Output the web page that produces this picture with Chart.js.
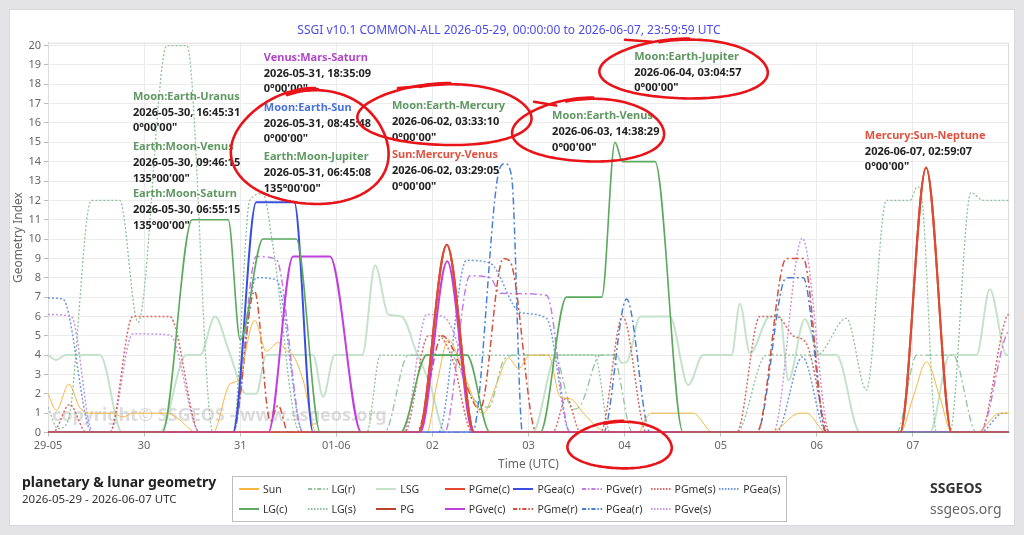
<!DOCTYPE html>
<html>
<head>
<meta charset="utf-8">
<title>SSGI planetary & lunar geometry</title>
<script src="https://cdn.jsdelivr.net/npm/chart.js@4.4.1/dist/chart.umd.min.js"></script>
<style>
    body { margin: 0; width: 1024px; height: 535px; overflow: hidden; position: relative; background: #e4e4e7; font-family: "Noto Sans", sans-serif; }
    #card { position: absolute; left: 9px; top: 9px; width: 1006px; height: 517px; background: #fff; box-sizing: border-box; border: 1px solid #d9d9dc; }
    #chart { position: absolute; left: 9px; top: 9px; }
    .foot { position: absolute; white-space: nowrap; color: #222; }
    #legend { position: absolute; left: 232px; top: 476px; width: 555px; height: 46px; box-sizing: border-box; border: 1px solid #bdbdbd; background: #fff;
              display: grid; grid-template-rows: repeat(2, 20px); grid-auto-flow: column; grid-auto-columns: 68.6px; padding: 2px 0 0 6px; }
    .item { display: flex; align-items: center; font-size: 10.5px; color: #333; }
    .item svg { margin-right: 4px; }
</style>
</head>
<body>
<div id="card"></div>
<canvas id="chart" width="1006" height="470" style="width:1006px;height:470px"></canvas>
<div class="foot" style="left:22px;top:472px;font-size:14px;font-weight:bold;">planetary &amp; lunar geometry</div>
<div class="foot" style="left:22px;top:491px;font-size:11.5px;color:#333;">2026-05-29 - 2026-06-07 UTC</div>
<div id="legend"></div>
<div class="foot" style="left:930px;top:478px;font-size:14px;font-weight:bold;color:#333;">SSGEOS</div>
<div class="foot" style="left:930px;top:499px;font-size:14px;color:#666;">ssgeos.org</div>

<script>
// SSGI geometry index, 2026-05-29 .. 2026-06-07, x = hours since 29-05 00:00 UTC

const dayLabels = ['29-05', '30', '31', '01-06', '02', '03', '04', '05', '06', '07'];
const dayHours = [0, 24, 48, 72, 96, 120, 144, 168, 192, 216];
const yTicks = [0, 1, 2, 3, 4, 5, 6, 7, 8, 9, 10, 11, 12, 13, 14, 15, 16, 17, 18, 19, 20];

// [hour, index]
const sun = [[0, 2], [2.1, 1.15], [5.2, 2.5], [7.9, 1.3], [10.4, 1], [16.2, 1], [18.7, 0.8], [21.2, 1], [29.6, 1], [32.9, 0.65], [37, 0], [41.2, 0],
    [45.4, 2.5], [47.5, 2.7], [51.6, 5.8], [54.5, 4.2], [57.5, 4.65], [59.5, 4.25], [61.2, 4], [63.7, 2.7], [67, 0], [94.6, 0], [97.1, 2.5], [100, 4.8],
    [102.9, 3.6], [105.4, 2.2], [107.5, 1.15], [108.7, 1], [112, 2.5], [115, 3.85], [117.5, 3.3], [120.4, 4], [125, 4], [127.9, 1.85], [130.4, 1.75],
    [133.7, 1], [137, 0.3], [139.5, 0], [147.4, 0], [149.5, 0.8], [150.8, 1], [161.1, 1], [166.1, 0], [180.3, 0], [187.8, 1], [189.4, 1], [194.4, 0],
    [212.8, 0], [216.1, 1.85], [219.4, 3.65], [222.7, 1.85], [225.7, 0], [231.9, 0], [237.7, 1], [240, 1]];
const lgC = [[0, 0], [28.5, 0], [36, 11], [45, 11], [48, 4.8], [53.7, 10], [62, 10], [68, 0], [88, 0], [94.6, 4], [104.6, 4], [110.4, 0], [122.9, 0],
    [129.5, 7], [138.3, 7], [141.6, 15], [143.5, 14], [151.6, 14], [158.6, 0], [240, 0]];
const lgR = [[0, 0], [84, 0], [90, 4], [100.5, 4], [106, 1.8], [110, 1.3], [114, 3.8], [117, 4], [126.5, 4], [131, 1.2], [133, 1.4], [138, 4], [141, 4],
    [146, 0], [211.9, 0], [217, 4], [226, 4], [231.9, 0], [240, 0]];
const lgS = [[0, 1.3], [2.5, 0.2], [5, 0.6], [10.8, 12], [17.9, 12], [22.5, 5.7], [29.7, 20], [34.7, 20], [41.2, 0], [46.2, 0], [50.4, 12], [53.7, 12.35],
    [56.2, 9.6], [62.9, 0], [79.6, 0], [83, 4], [136.5, 4], [140.4, 0], [172, 0], [179.4, 4], [192, 4], [199.4, 5.9], [204.4, 2.2], [209.4, 12], [215.3, 12],
    [217.1, 12.7], [218.3, 12], [221.9, 0], [225.2, 0], [230.5, 12.4], [233.6, 12], [240, 12]];
const lsg = [[0, 4], [2, 3.75], [4.5, 4], [13, 4], [18.5, 0], [28, 0], [34.5, 4], [38, 4], [41.7, 6], [45.2, 4.2], [49.5, 2], [52, 2], [54.5, 4], [66.2, 4],
    [68.7, 1.85], [71.6, 4], [78.5, 4], [81.7, 8.65], [85, 6.1], [88.3, 6], [92.1, 4.1], [95.4, 2.5], [99.2, 0], [121, 0], [127, 4], [142, 4], [143.3, 3.6],
    [144.6, 3.65], [147.9, 6], [155.3, 6], [159.9, 2.45], [163.6, 4], [170.7, 4], [172.8, 6.65], [175.3, 4.1], [180.3, 6], [182.8, 6], [184.9, 2.7],
    [189, 5.85], [192.8, 4], [196.9, 4], [202.8, 0], [220.2, 0], [225.2, 4], [231.9, 4], [235.2, 7.4], [239.4, 4], [240, 4]];
const pg = [[0, 0], [92.5, 0], [99.6, 9.7], [106.5, 0], [212.8, 0], [219.3, 13.7], [225.7, 0], [240, 0]];
const pgmeC = [[0, 0], [92.5, 0], [99.6, 9.7], [106.5, 0], [212.8, 0], [219.3, 13.7], [225.7, 0], [240, 0]];
const pgveC = [[0, 0], [55, 0], [61.2, 9.1], [70.4, 9.1], [78.3, 0], [92.9, 0], [99.7, 8.85], [106.2, 0], [240, 0]];
const pgeaC = [[0, 0], [46.2, 0], [52, 11.9], [61.5, 11.9], [66.2, 0], [240, 0]];
const pgmeR = [[0, 0], [46.2, 0], [51.6, 7.3], [55.5, 0.6], [57.5, 1.4], [60, 0], [92, 0], [98.5, 5], [101.2, 4.3], [107.9, 1.2], [113.7, 9], [115.5, 8.8],
    [122, 0], [177, 0], [184.4, 9], [188.6, 9], [194.4, 0], [240, 0]];
const pgveR = [[0, 0], [46.2, 0], [52, 9.1], [57, 8.95], [63.7, 0], [99, 0], [105.4, 8.1], [110.4, 8], [113, 7.2], [124.5, 7.1], [130.4, 0], [232.7, 0],
    [239.4, 5.1], [240, 5.2]];
const pgeaR = [[0, 0], [106, 0], [112.3, 13.2], [114.1, 13.9], [115.8, 13.2], [118.5, 0], [138.7, 0], [144.5, 6.9], [150.4, 0], [177, 0], [184.4, 8],
    [188.6, 8], [194.4, 0], [240, 0]];
const pgmeS = [[0, 0], [1.2, 0], [5.4, 1.45], [9.6, 0], [15.4, 0], [21.2, 6], [30.4, 6], [37.9, 0], [89, 0], [95, 5], [97.5, 5], [101, 3.8], [106, 0],
    [126, 0], [129.5, 1.8], [133, 0], [138, 0], [143.5, 6], [149.5, 0], [172, 0], [177.8, 6], [182, 6], [186.1, 5], [189.4, 4.6], [195.3, 0], [232.7, 0],
    [239.4, 6], [240, 6.1]];
const pgveS = [[0, 6.1], [5.8, 6], [11.2, 0], [15.4, 0], [21.2, 5.1], [30.4, 5.05], [37.9, 0], [88.7, 0], [94.6, 6.1], [98.7, 6], [103, 4], [106.5, 0],
    [181.1, 0], [188.4, 10.05], [195.3, 0], [240, 0]];
const pgeaS = [[0, 6.95], [3.7, 6.9], [11, 0], [46.2, 0], [52, 8], [57, 7.9], [63.7, 0], [97.5, 0], [104.5, 8.9], [110.4, 8.75], [118, 6.2], [124.5, 5.9],
    [130.4, 0], [181.9, 0], [188.4, 3.9], [194.4, 0], [232.7, 0], [238.6, 1], [240, 1]];

// event labels
const noteTitles = ['Moon:Earth-Uranus', 'Earth:Moon-Venus', 'Earth:Moon-Saturn', 'Venus:Mars-Saturn', 'Moon:Earth-Sun', 'Earth:Moon-Jupiter',
    'Moon:Earth-Mercury', 'Sun:Mercury-Venus', 'Moon:Earth-Jupiter', 'Moon:Earth-Venus', 'Mercury:Sun-Neptune'];
const noteTimes = ['2026-05-30, 16:45:31', '2026-05-30, 09:46:15', '2026-05-30, 06:55:15', '2026-05-31, 18:35:09', '2026-05-31, 08:45:48',
    '2026-05-31, 06:45:08', '2026-06-02, 03:33:10', '2026-06-02, 03:29:05', '2026-06-04, 03:04:57', '2026-06-03, 14:38:29', '2026-06-07, 02:59:07'];
const noteAngles = ['0°00\'00"', '135°00\'00"', '135°00\'00"', '0°00\'00"', '0°00\'00"', '135°00\'00"', '0°00\'00"', '0°00\'00"', '0°00\'00"',
    '0°00\'00"', '0°00\'00"'];

const GREEN = '#5f9862', PURPLE = '#b048c8', BLUE = '#4a72d8', RED = '#e0523f';
const noteColors = [GREEN, GREEN, GREEN, PURPLE, BLUE, GREEN, GREEN, RED, GREEN, GREEN, RED];
// label anchor in (hour, index) units
const noteSpots = [[21.2, 17.36], [21.2, 14.77], [21.2, 12.33], [53.9, 19.38], [53.9, 16.79], [53.9, 14.25], [85.9, 16.89], [85.9, 14.35],
    [146.4, 19.43], [125.9, 16.37], [204.0, 15.34]];

const DOT = [2, 2], DASHDOT = [7, 3, 2, 3];
// legend order is column-major, two rows
const series = [
    { label: 'Sun', data: sun, color: '#f4b63f', width: 1, dash: [], order: 4 },
    { label: 'LG(c)', data: lgC, color: '#5aa95c', width: 1.6, dash: [], order: 2 },
    { label: 'LG(r)', data: lgR, color: '#8fc49c', width: 1.3, dash: DASHDOT, order: 9 },
    { label: 'LG(s)', data: lgS, color: '#8cc297', width: 1.3, dash: DOT, order: 9 },
    { label: 'LSG', data: lsg, color: '#c4e3ca', width: 2, dash: [], order: 10 },
    { label: 'PG', data: pg, color: '#b9412d', width: 2, dash: [], order: 3 },
    { label: 'PGme(c)', data: pgmeC, color: '#e4492f', width: 2, dash: [], order: 1 },
    { label: 'PGve(c)', data: pgveC, color: '#c23fdf', width: 2, dash: [], order: 2 },
    { label: 'PGea(c)', data: pgeaC, color: '#3a4fe0', width: 2, dash: [], order: 2 },
    { label: 'PGme(r)', data: pgmeR, color: '#d5503c', width: 1.5, dash: DASHDOT, order: 6 },
    { label: 'PGve(r)', data: pgveR, color: '#c27fe2', width: 1.5, dash: DASHDOT, order: 6 },
    { label: 'PGea(r)', data: pgeaR, color: '#4a7fd6', width: 1.5, dash: DASHDOT, order: 6 },
    { label: 'PGme(s)', data: pgmeS, color: '#d66a62', width: 1.5, dash: DOT, order: 7 },
    { label: 'PGve(s)', data: pgveS, color: '#c995e4', width: 1.5, dash: DOT, order: 7 },
    { label: 'PGea(s)', data: pgeaS, color: '#6d9ce2', width: 1.5, dash: DOT, order: 7 }
];

// HTML legend
const legendBox = document.getElementById('legend');
series.forEach(function (s) {
    const item = document.createElement('div');
    item.className = 'item';
    const dash = s.dash.length ? s.dash.map(function (d) { return Math.max(1.5, d * 0.6); }).join(',') : 'none';
    item.innerHTML = '<svg width="20" height="6"><line x1="0" y1="3" x2="20" y2="3" stroke="' + s.color + '" stroke-width="2" stroke-dasharray="' + dash + '"/></svg>' + s.label;
    legendBox.appendChild(item);
});

// frame, watermark, event labels and the red marker scribbles
const decorPlugin = {
    id: 'decor',
    beforeDatasetsDraw(chart) {
        const { ctx, chartArea, scales } = chart;
        ctx.save();
        ctx.strokeStyle = '#dcdcdc';
        ctx.lineWidth = 1;
        ctx.strokeRect(chartArea.left + 0.5, chartArea.top + 0.5, chartArea.width - 1, chartArea.height - 1);
        ctx.font = 'bold 18px "Noto Sans"';
        ctx.fillStyle = 'rgba(150, 150, 150, 0.33)';
        ctx.textBaseline = 'middle';
        ctx.fillText('copyright© SSGEOS - www.ssgeos.org', chartArea.left + 4, scales.y.getPixelForValue(0.85));
        ctx.restore();
    },
    afterDatasetsDraw(chart) {
        const { ctx, scales } = chart;
        ctx.save();
        ctx.font = 'bold 11px "Noto Sans"';
        ctx.textBaseline = 'middle';
        noteSpots.forEach(function (p, i) {
            const x = scales.x.getPixelForValue(p[0]);
            const y = scales.y.getPixelForValue(p[1]);
            ctx.fillStyle = noteColors[i];
            ctx.fillText(noteTitles[i], x, y);
            ctx.fillStyle = '#222';
            ctx.fillText(noteTimes[i], x, y + 15.8);
            ctx.fillText(noteAngles[i], x, y + 31.6);
        });
        ctx.restore();
    },
    afterDraw(chart) {
        const { ctx, scales } = chart;
        const px = function (h) { return scales.x.getPixelForValue(h); };
        const py = function (v) { return scales.y.getPixelForValue(v); };
        // [centre hour, centre index, radius hours, radius index, tail]
        const marks = [
            [65.9, 14.7, 19.2, 2.9, [62.4, 17.65, 67.4, 17.75]],
            [99.6, 16.4, 21.2, 1.55, [87.4, 17.8, 93.2, 17.9]],
            [135.4, 15.6, 18.5, 1.6, [121.4, 17.1, 126.9, 16.9]],
            [159.3, 18.76, 20.5, 1.5, [144.1, 20.3, 150.8, 20.2]],
            [143.1, -0.67, 12.7, 1.19, null]
        ];
        ctx.save();
        ctx.strokeStyle = '#e8141a';
        ctx.lineWidth = 2.6;
        ctx.lineCap = 'round';
        marks.forEach(function (m) {
            const cx = px(m[0]), cy = py(m[1]);
            const rx = px(m[0] + m[2]) - cx, ry = cy - py(m[1] + m[3]);
            ctx.beginPath();
            for (let t = 0; t <= 2.12 * Math.PI; t += 0.05) {
                const a = -1.9 + t;
                const wob = 1 + 0.035 * Math.sin(3 * t) + 0.04 * (t / (2 * Math.PI));
                const x = cx + rx * wob * Math.cos(a);
                const y = cy + ry * wob * Math.sin(a);
                if (t === 0) ctx.moveTo(x, y); else ctx.lineTo(x, y);
            }
            ctx.stroke();
            if (m[4]) {
                ctx.beginPath();
                ctx.moveTo(px(m[4][0]), py(m[4][1]));
                ctx.lineTo(px(m[4][2]), py(m[4][3]));
                ctx.stroke();
            }
        });
        ctx.restore();
    }
};

new Chart(document.getElementById('chart'), {
    type: 'line',
    data: {
        datasets: series.map(function (s) {
            return {
                label: s.label,
                data: s.data.map(function (p) { return { x: p[0], y: p[1] }; }),
                borderColor: s.color,
                backgroundColor: s.color,
                borderWidth: s.width,
                borderDash: s.dash,
                pointRadius: 0,
                fill: false,
                cubicInterpolationMode: 'monotone',
                order: s.order
            };
        })
    },
    options: {
        responsive: false,
        animation: false,
        layout: { padding: { left: 0, right: 6, top: 0, bottom: 0 } },
        plugins: {
            legend: { display: false },
            tooltip: { enabled: false },
            title: {
                display: true,
                text: 'SSGI v10.1 COMMON-ALL 2026-05-29, 00:00:00 to 2026-06-07, 23:59:59 UTC',
                color: '#4b4bef',
                font: { family: 'Noto Sans', size: 12, weight: 'normal' },
                padding: { top: 14, bottom: 5.3 }
            }
        },
        scales: {
            x: {
                type: 'linear',
                min: 0,
                max: 240,
                afterFit(scale) { scale.height = 46.5; },
                afterBuildTicks(scale) { scale.ticks = dayHours.map(function (h) { return { value: h }; }); },
                ticks: {
                    color: '#666',
                    font: { family: 'Noto Sans', size: 11 },
                    padding: 3,
                    maxRotation: 0,
                    callback: function (value) {
                        const i = dayHours.indexOf(value);
                        return i >= 0 ? dayLabels[i] : '';
                    }
                },
                grid: { color: '#ebebeb', tickLength: 4, tickColor: '#bbb' },
                border: { color: '#cfcfcf' },
                title: { display: true, text: 'Time (UTC)', color: '#666', font: { family: 'Noto Sans', size: 12 }, padding: { top: 4, bottom: 7 } }
            },
            y: {
                min: 0,
                max: 20.15,
                afterFit(scale) { scale.width = 39; },
                afterBuildTicks(scale) { scale.ticks = yTicks.map(function (v) { return { value: v }; }); },
                ticks: { color: '#666', font: { family: 'Noto Sans', size: 11 }, padding: 3 },
                grid: { color: '#ececec', tickLength: 4, tickColor: '#bbb' },
                border: { color: '#cfcfcf' },
                title: { display: true, text: 'Geometry Index', color: '#666', font: { family: 'Noto Sans', size: 12 }, padding: { top: 2, bottom: 0 } }
            }
        }
    },
    plugins: [decorPlugin]
});
</script>
</body>
</html>
